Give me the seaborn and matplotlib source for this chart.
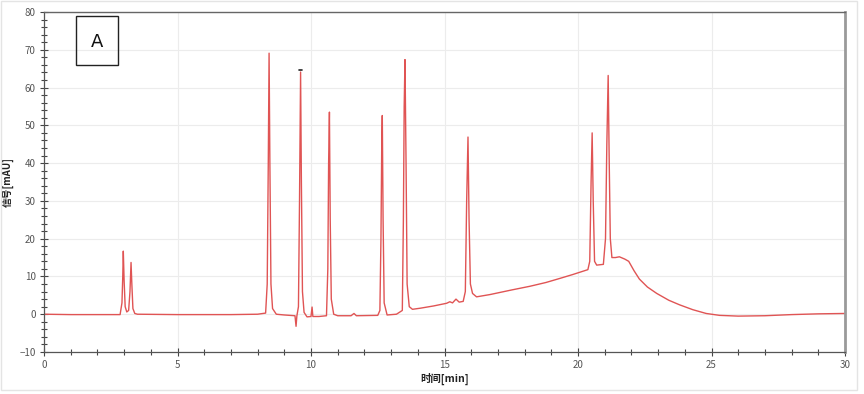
import matplotlib
matplotlib.use("Agg")
import matplotlib.pyplot as plt
import seaborn as sns
import pandas as pd
from matplotlib.ticker import MultipleLocator
from matplotlib.patches import Rectangle

# ---- data ----
time_min = [
    0.0, 1.0, 2.0, 2.85, 2.92, 2.95, 2.97, 3.0, 3.04, 3.1, 3.17, 3.22, 3.26, 3.29, 3.33, 3.4, 3.5,
    5.0, 7.0, 8.0, 8.3, 8.36, 8.40, 8.43, 8.46, 8.50, 8.56, 8.7, 9.0, 9.4, 9.44, 9.47, 9.53, 9.57,
    9.61, 9.64, 9.68, 9.74, 9.85, 10.0, 10.04, 10.07, 10.3, 10.58, 10.63, 10.66, 10.69, 10.72, 10.76,
    10.85, 11.0, 11.5, 11.61, 11.7, 12.5, 12.58, 12.62, 12.65, 12.67, 12.70, 12.74, 12.85, 13.2,
    13.42, 13.46, 13.49, 13.52, 13.56, 13.6, 13.68, 13.8, 14.1, 14.6, 15.08, 15.2, 15.3, 15.43,
    15.55, 15.7, 15.78, 15.83, 15.88, 15.92, 15.97, 16.05, 16.2, 16.7, 17.5, 18.2, 18.8, 19.33,
    19.8, 20.37, 20.44, 20.49, 20.53, 20.57, 20.62, 20.7, 20.95, 21.03, 21.08, 21.13, 21.17, 21.21,
    21.27, 21.4, 21.55, 21.75, 21.9, 22.1, 22.3, 22.6, 22.95, 23.4, 23.8, 24.3, 24.8, 25.3, 26.0,
    27.0, 28.0, 29.0, 30.0,
]
signal_mau = [
    0.0, -0.1, -0.1, -0.1, 3, 10, 16.7, 9, 2, 0.6, 1, 6, 13.7, 8, 1.5, 0.2, 0,
    -0.1, -0.1, 0, 0.3, 8, 40, 69.1, 40, 8, 1.5, 0, -0.2, -0.4, -3.2, -0.5, 2, 30,
    64.1, 35, 6, 0.5, -0.7, -0.6, 1.9, -0.6, -0.6, -0.4, 12, 40, 53.5, 25, 4,
    0, -0.4, -0.4, 0.2, -0.4, -0.3, 1, 20, 45, 52.6, 25, 3, -0.2, 0,
    1, 25, 55, 67.4, 40, 8, 2, 1.3, 1.6, 2.2, 2.9, 3.3, 3.0, 4.0,
    3.2, 3.4, 6, 30, 46.9, 25, 8, 5.5, 4.6, 5.2, 6.4, 7.4, 8.4, 9.5,
    10.5, 11.8, 14, 35, 48, 30, 14, 13, 13.2, 20, 45, 63.2, 40, 20,
    15, 15, 15.2, 14.6, 14.0, 11.5, 9.3, 7.2, 5.5, 3.7, 2.5, 1.2, 0.2, -0.3, -0.5,
    -0.4, -0.1, 0.1, 0.2,
]
# small integration marker above the 9.6 min peak
marker_t = [9.55, 9.68]
marker_y = [64.7, 64.7]

x_label = "时间[min]"
y_label = "信号[mAU]"
panel_label = "A"

df = pd.DataFrame({"t": time_min, "s": signal_mau})

sns.set_theme(style="white")
plt.rcParams["font.family"] = ["Noto Sans CJK SC", "DejaVu Sans"]

fig = plt.figure(figsize=(8.64, 3.94), dpi=100)
ax = fig.add_axes([44 / 864, 42 / 394, (845 - 44) / 864, (352 - 12) / 394])

sns.lineplot(data=df, x="t", y="s", ax=ax, color="#e05454", linewidth=1.0,
             sort=False, estimator=None)
ax.plot(marker_t, marker_y, color="#222222", linewidth=1.2)

ax.set_xlim(0, 30)
ax.set_ylim(-10, 80)
ax.xaxis.set_major_locator(MultipleLocator(5))
ax.xaxis.set_minor_locator(MultipleLocator(1))
ax.yaxis.set_major_locator(MultipleLocator(10))
ax.yaxis.set_minor_locator(MultipleLocator(2))

ax.grid(True, which="major", color="#ececec", linewidth=0.8)
ax.set_axisbelow(True)

ax.tick_params(axis="both", which="major", direction="inout", length=6, width=0.8,
               color="#444444", labelsize=7, labelcolor="#555555", pad=3)
ax.tick_params(axis="both", which="minor", direction="inout", length=4, width=0.8,
               color="#444444")
ax.tick_params(axis="x", which="both", bottom=True)
ax.tick_params(axis="y", which="both", left=True)

for side in ["left", "bottom"]:
    ax.spines[side].set_color("#555555")
    ax.spines[side].set_linewidth(0.9)
ax.spines["top"].set_color("#666666")
ax.spines["top"].set_linewidth(1.0)
ax.spines["right"].set_color("#9a9a9a")
ax.spines["right"].set_linewidth(2.0)

ax.set_xlabel(x_label, fontsize=7.5, fontweight="bold", color="#222222", labelpad=2)
ax.set_ylabel(y_label, fontsize=7, fontweight="bold", color="#222222", labelpad=4)

# panel label box
ax.add_patch(Rectangle((76 / 864, 329 / 394), (118 - 76) / 864, (378 - 329) / 394,
                       transform=fig.transFigure, fill=False, edgecolor="#222222",
                       linewidth=1.0, zorder=5))
fig.text(97 / 864, (394 - 42) / 394, panel_label, fontsize=13, ha="center", va="center",
         color="#111111", family=["DejaVu Sans"])

# faint outer frame
fig.patches.append(Rectangle((0.001, 0.01), 0.991, 0.988, transform=fig.transFigure,
                             fill=False, edgecolor="#e4e4e4", linewidth=1.0))

fig.savefig("out.png", dpi=100)
